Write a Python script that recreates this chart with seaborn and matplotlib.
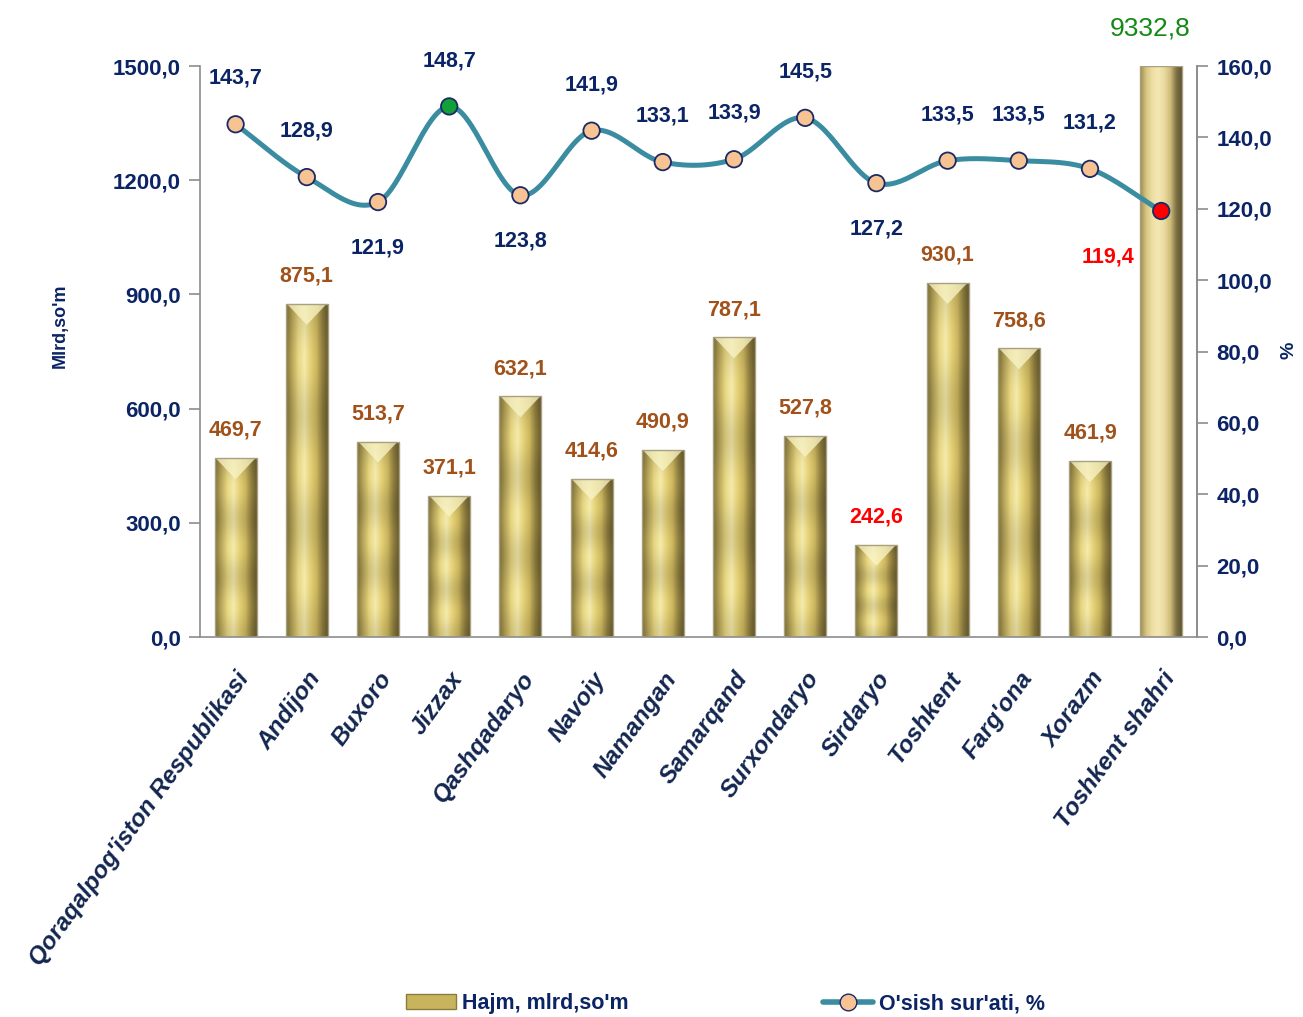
import numpy as np
import pandas as pd
import matplotlib
matplotlib.use("Agg")
import matplotlib.pyplot as plt
import seaborn as sns
from matplotlib.colors import LinearSegmentedColormap
from matplotlib.patches import Polygon
from matplotlib.lines import Line2D
import matplotlib.patches as mpatches
import matplotlib.transforms as mtransforms

# --- data ---
regions = ["Qoraqalpog'iston Respublikasi", "Andijon", "Buxoro", "Jizzax", "Qashqadaryo",
           "Navoiy", "Namangan", "Samarqand", "Surxondaryo", "Sirdaryo", "Toshkent",
           "Farg'ona", "Xorazm", "Toshkent shahri"]
volume = [469.7, 875.1, 513.7, 371.1, 632.1, 414.6, 490.9, 787.1, 527.8, 242.6, 930.1,
          758.6, 461.9, 9332.8]
growth = [143.7, 128.9, 121.9, 148.7, 123.8, 141.9, 133.1, 133.9, 145.5, 127.2, 133.5,
          133.5, 131.2, 119.4]
growth_below = [False, False, True, False, True, False, False, False, False, True, False,
                False, False, True]
left_ticks = [0, 300, 600, 900, 1200, 1500]
right_ticks = [0, 20, 40, 60, 80, 100, 120, 140, 160]

NAVY = "#0B2465"
BROWN = "#A0521A"
TEAL = "#3A8CA0"
PEACH = "#F8C393"
FONT = ["Liberation Sans", "DejaVu Sans"]

sns.set_style("white")
plt.rcParams["font.family"] = FONT

df = pd.DataFrame({"region": regions, "volume": volume, "growth": growth})

fig = plt.figure(figsize=(13.03, 10.17), dpi=100)
ax = fig.add_axes([0.1535, 0.3736, 0.765, 0.5614])

sns.barplot(data=df, x="region", y="volume", ax=ax, width=0.59, color="#D9C46A",
            edgecolor="none", saturation=1)

ax.set_ylim(0, 1500)
ax.set_xlim(-0.5, len(regions) - 0.5)

# gold gradient fill for bars
gold = LinearSegmentedColormap.from_list(
    "gold", ["#85773A", "#BCA95C", "#E8D782", "#F5EBAC", "#E6D278", "#CDB75F", "#907F40", "#665A2D"])
pale = LinearSegmentedColormap.from_list(
    "pale", ["#9C8C50", "#D8C683", "#EEDFA4", "#F3E7B4", "#E9DA9E", "#CDBB7A", "#7D7045", "#5A5030"])
X, Y = np.meshgrid(np.linspace(0, 1, 64), np.linspace(0, 1, 64))
shade = 1 - 0.1 * np.cos(Y * np.pi * 3.0) ** 2
last = len(regions) - 1
for i, p in enumerate(ax.patches):
    x0, w, h = p.get_x(), p.get_width(), p.get_height()
    img = (pale if i == last else gold)(X)
    if i != last:
        img[..., :3] *= shade[..., None]
    top = min(h, 1500)
    im = ax.imshow(img, extent=[x0, x0 + w, 0, top], origin="lower", aspect="auto",
                   zorder=2, interpolation="bilinear")
    im.set_clip_path(p)
    p.set_facecolor("none")
    # light pyramid cap on top of the bar
    if h <= 1500:
        tri = Polygon([[x0 + 0.03 * w, h], [x0 + 0.97 * w, h], [x0 + w / 2, h - 55]],
                      closed=True, facecolor="#FBF6C8", alpha=0.75, edgecolor="none", zorder=3)
        ax.add_patch(tri)
    ax.add_patch(mpatches.Rectangle((x0, 0), w, top, fill=False, edgecolor="#A8A080",
                                    lw=1.0, zorder=3))

ax.set_xlim(-0.5, len(regions) - 0.5)
ax.set_ylim(0, 1500)

# bar labels
for i, v in enumerate(volume):
    lab = f"{v:.1f}".replace(".", ",")
    if v > 1500:
        ax.annotate(lab, (i, 1500), xytext=(-8, 27), textcoords="offset points",
                    ha="center", va="center", color="#138A13", fontsize=19,
                    annotation_clip=False)
    else:
        ax.annotate(lab, (i, v), xytext=(0, 20), textcoords="offset points",
                    ha="center", va="center", fontsize=15.5, fontweight="bold",
                    color="red" if v == min(volume) else BROWN, zorder=6)

# axes styling
ax.set_yticks(left_ticks)
ax.set_yticklabels([f"{t:.1f}".replace(".", ",") for t in left_ticks],
                   fontsize=16, fontweight="bold", color=NAVY)
ax.set_xticks(range(len(regions)))
ax.set_xticklabels(regions, rotation=54, ha="right", va="top", rotation_mode="anchor",
                   fontsize=17.5, fontweight="bold", fontstyle="italic", color="#13264F")
shift = mtransforms.ScaledTranslation(-10 / 100, -6 / 100, fig.dpi_scale_trans)
for lbl in ax.get_xticklabels():
    lbl.set_transform(lbl.get_transform() + shift)
ax.set_xticks(np.arange(-0.5, len(regions), 1), minor=True)
ax.tick_params(axis="x", which="major", length=0, pad=22)
ax.tick_params(axis="x", which="minor", length=8, color="#8C8C8C", width=1.2)
ax.tick_params(axis="y", length=8, color="#8C8C8C", width=1.2, pad=6, left=True)
ax.set_xlabel("")
ax.set_ylabel("")
ax.text(-0.1404, 0.546, "Mlrd,so'm", transform=ax.transAxes, rotation=90, ha="center",
        va="center", fontsize=13, fontweight="bold", color=NAVY)
ax.spines["top"].set_visible(False)
for s in ["left", "bottom", "right"]:
    ax.spines[s].set_color("#8C8C8C")
    ax.spines[s].set_linewidth(1.2)

# growth line on right axis
ax2 = ax.twinx()
ax2.set_ylim(0, 160)
pos = np.arange(len(regions), dtype=float)
g = np.array(growth)
# smooth curve (Catmull-Rom) through the points, like the spreadsheet "smoothed line"
pp = np.concatenate([[2 * pos[0] - pos[1]], pos, [2 * pos[-1] - pos[-2]]])
gp = np.concatenate([[2 * g[0] - g[1]], g, [2 * g[-1] - g[-2]]])
cx, cy = [], []
t = np.linspace(0, 1, 30)
for k in range(1, len(pp) - 2):
    p0, p1, p2, p3 = [np.array([pp[j], gp[j]]) for j in range(k - 1, k + 3)]
    b1 = p1 + (p2 - p0) / 6
    b2 = p2 - (p3 - p1) / 6
    seg = ((1 - t) ** 3)[:, None] * p1 + (3 * (1 - t) ** 2 * t)[:, None] * b1 \
        + (3 * (1 - t) * t ** 2)[:, None] * b2 + (t ** 3)[:, None] * p2
    cx.extend(seg[:, 0]); cy.extend(seg[:, 1])
ax2.plot(cx, cy, color=TEAL, lw=3.6, zorder=4, solid_capstyle="round")
face = [PEACH] * len(regions)
face[int(np.argmax(g))] = "#12A038"
face[int(np.argmin(g))] = "#FF0000"
sns.scatterplot(x=pos, y=g, ax=ax2, s=140, c=face, edgecolor="#1B2A66", linewidth=1.3,
                zorder=5, legend=False)

for i, v in enumerate(growth):
    lab = f"{v:.1f}".replace(".", ",")
    if v == min(growth):
        off, col = (-38, -33), "red"
    elif growth_below[i]:
        off, col = (0, -33), NAVY
    else:
        off, col = (0, 33), NAVY
    ax2.annotate(lab, (i, v), xytext=off, textcoords="offset points", ha="center",
                 va="center", fontsize=15.5, fontweight="bold", color=col)

ax2.set_yticks(right_ticks)
ax2.set_yticklabels([f"{t:.1f}".replace(".", ",") for t in right_ticks],
                    fontsize=16, fontweight="bold", color=NAVY)
ax2.tick_params(axis="y", length=8, color="#8C8C8C", width=1.2, pad=6)
ax2.set_ylabel("")
ax.text(1.092, 0.503, "%", transform=ax.transAxes, rotation=90, ha="center",
        va="center", fontsize=14, fontweight="bold", color=NAVY)
for s in ["top", "left", "bottom"]:
    ax2.spines[s].set_visible(False)
ax2.spines["right"].set_color("#8C8C8C")
ax2.spines["right"].set_linewidth(1.2)
ax2.set_xlim(-0.5, len(regions) - 0.5)
ax2.grid(False)
ax.grid(False)

# legend
bar_handle = mpatches.Rectangle((0, 0), 1, 1, facecolor="#C8B45C", edgecolor="#8A7D3C")
line_handle = Line2D([], [], color=TEAL, lw=4, marker="o", markersize=12,
                     markerfacecolor=PEACH, markeredgecolor="#1B2A66")
fig.legend([bar_handle], ["Hajm, mlrd,so'm"], loc="center", bbox_to_anchor=(0.397, 0.013),
           frameon=False, prop={"weight": "bold", "size": 15.5},
           labelcolor=NAVY, handlelength=2.3, handleheight=0.7, handletextpad=0.3)
fig.legend([line_handle], ["O'sish sur'ati, %"], loc="center", bbox_to_anchor=(0.717, 0.013),
           frameon=False, prop={"weight": "bold", "size": 15.5},
           labelcolor=NAVY, handlelength=2.3, handletextpad=0.3)

fig.savefig("out.png", dpi=100, facecolor="white")
